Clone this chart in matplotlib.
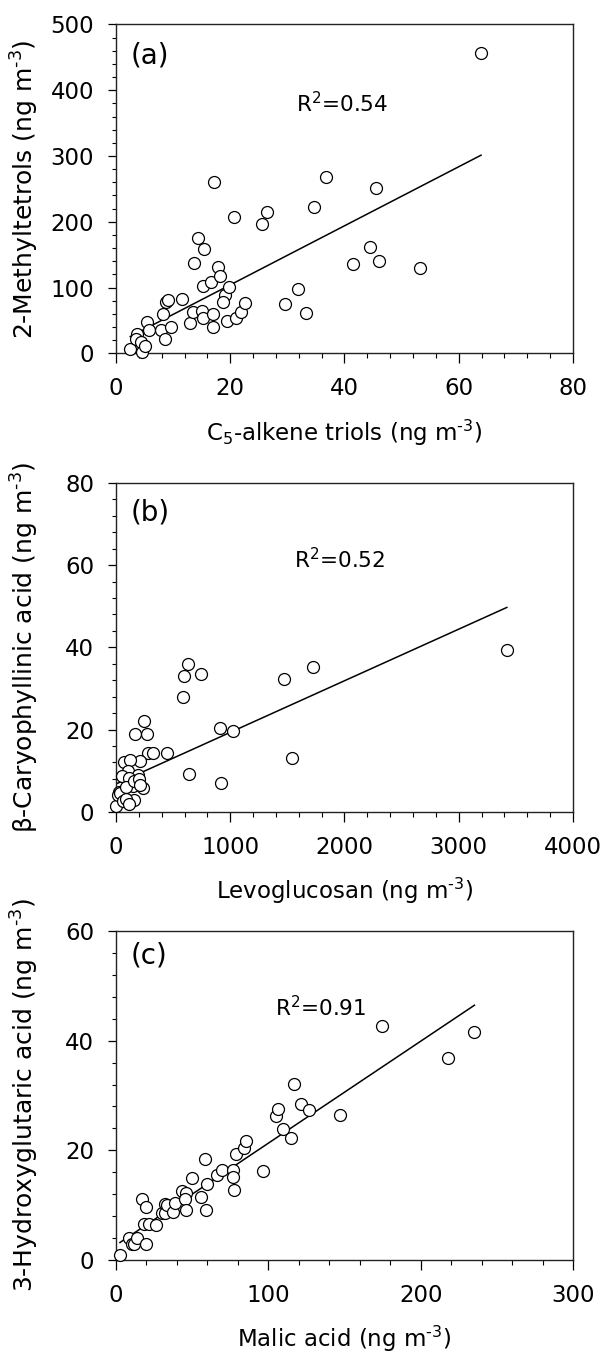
import matplotlib
matplotlib.use("Agg")
import matplotlib.pyplot as plt
import numpy as np
from matplotlib.ticker import MultipleLocator

plt.rcParams['font.family'] = ['DejaVu Sans']
plt.rcParams['mathtext.fontset'] = 'dejavusans'

# ---------------- data ----------------
# (a) 2-Methyltetrols vs C5-alkene triols
a_x = [2.5, 3.7, 3.5, 4.3, 4.6, 5.1, 5.5, 5.8, 7.8, 8.6, 8.2, 8.8, 9.1, 9.6,
       11.5, 12.9, 13.5, 13.7, 14.4, 15.4, 15.0, 15.3, 15.3, 16.6, 16.9, 16.9,
       17.1, 17.8, 18.2, 19.1, 18.8, 19.5, 19.8, 20.6, 21.0, 21.8, 22.5, 25.5,
       26.5, 29.6, 31.9, 33.3, 34.6, 36.7, 41.5, 44.5, 45.6, 46.1, 53.3, 63.9]
a_y = [7, 29, 22, 17, 2, 10.6, 47.6, 35, 35, 21.3, 60, 78, 80.5, 40,
       83, 46.6, 62.8, 138, 176, 158, 65, 54, 103, 108, 60, 40,
       261, 132, 117, 88, 78, 49, 101, 208, 54, 63, 76.5, 197,
       215, 75, 98, 62, 223, 268, 136, 161, 251, 140, 129.6, 457]
a_fit = (4.49, 14.3)   # slope, intercept
a_r2 = "0.54"

# (b) beta-Caryophyllinic acid vs Levoglucosan
b_x = [626, 597, 748, 588, 247, 169, 268, 911, 1025, 1470, 1726, 1537, 640,
       917, 277, 320, 445, 213, 73, 122, 102, 52, 189, 116, 239, 146, 29,
       44, 73, 160, 0, 20, 35, 60, 90, 110, 85, 160, 200, 210, 3421]
b_y = [36.0, 33.0, 33.4, 27.8, 22.1, 19.0, 18.9, 20.4, 19.7, 32.3, 35.1, 13.1, 9.2,
       7.1, 14.3, 14.3, 14.4, 12.4, 12.2, 12.6, 9.8, 8.6, 9.0, 8.1, 5.8, 6.3, 4.9,
       3.7, 3.3, 2.9, 1.3, 4.0, 4.5, 2.5, 3.2, 2.0, 6.0, 7.5, 8.0, 6.5, 39.4]
b_fit = (0.01255, 6.76)
b_r2 = "0.52"

# (c) 3-Hydroxyglutaric acid vs Malic acid
c_x = [2.6, 8.7, 10.2, 12.0, 13.5, 19.6, 16.8, 19.6, 18.3, 21.6, 26.1, 30.3,
       32.0, 32.0, 33.8, 37.5, 39.0, 43.6, 45.8, 45.1, 46.2, 49.9, 56.0, 58.2,
       58.8, 59.9, 66.2, 69.5, 76.7, 76.7, 77.8, 78.9, 84.3, 85.4, 96.3, 105.0,
       106.1, 109.4, 115.2, 116.6, 121.4, 126.4, 146.8, 174.3, 217.9, 235.3]
c_y = [0.9, 4.0, 3.0, 2.9, 4.0, 2.9, 11.1, 9.6, 6.6, 6.6, 6.4, 8.6,
       10.2, 8.6, 10.0, 8.8, 10.4, 12.5, 12.2, 11.1, 9.1, 14.9, 11.4, 18.4,
       9.1, 13.8, 15.5, 16.5, 16.4, 15.2, 12.7, 19.4, 20.5, 21.7, 16.2, 26.2,
       27.6, 23.8, 22.2, 32.1, 28.4, 27.4, 26.5, 42.6, 36.8, 41.6]
c_fit = (0.186, 2.7)
c_r2 = "0.91"

HY = "\u2010"
panels = [
    dict(x=a_x, y=a_y, fit=a_fit, r2=a_r2, tag="(a)",
         xlim=(0, 80), ylim=(0, 500), xmaj=20, xmin=4, ymaj=100, ymin=20,
         xlabel="C$_5$-alkene triols (ng m$^{" + HY + "3}$)",
         ylabel="2-Methyltetrols (ng m$^{" + HY + "3}$)",
         bottom=0.7396, r2pos=(0.393, 0.733), tagpos=(0.032, 0.906)),
    dict(x=b_x, y=b_y, fit=b_fit, r2=b_r2, tag="(b)",
         xlim=(0, 4000), ylim=(0, 80), xmaj=1000, xmin=200, ymaj=20, ymin=4,
         xlabel="Levoglucosan (ng m$^{" + HY + "3}$)",
         ylabel="\u03b2-Caryophyllinic acid (ng m$^{" + HY + "3}$)",
         bottom=0.4018, r2pos=(0.39, 0.739), tagpos=(0.033, 0.91)),
    dict(x=c_x, y=c_y, fit=c_fit, r2=c_r2, tag="(c)",
         xlim=(0, 300), ylim=(0, 60), xmaj=100, xmin=20, ymaj=20, ymin=4,
         xlabel="Malic acid (ng m$^{" + HY + "3}$)",
         ylabel="3-Hydroxyglutaric acid (ng m$^{" + HY + "3}$)",
         bottom=0.0715, r2pos=(0.348, 0.74), tagpos=(0.031, 0.925)),
]

fig = plt.figure(figsize=(6.05, 13.57), dpi=100)

for p in panels:
    ax = fig.add_axes([0.1917, p["bottom"], 0.7554, 0.2424])
    x = np.array(p["x"], dtype=float)
    y = np.array(p["y"], dtype=float)
    slope, icpt = p["fit"]
    xl = np.array([x.min(), x.max()])
    ax.plot(xl, slope * xl + icpt, color="black", lw=1.1, zorder=2)
    ax.plot(x, y, linestyle="none", marker="o", markersize=8.6,
            markerfacecolor="white", markeredgecolor="black",
            markeredgewidth=0.9, zorder=3, clip_on=False)
    ax.set_xlim(*p["xlim"])
    ax.set_ylim(*p["ylim"])
    ax.xaxis.set_major_locator(MultipleLocator(p["xmaj"]))
    ax.xaxis.set_minor_locator(MultipleLocator(p["xmin"]))
    ax.yaxis.set_major_locator(MultipleLocator(p["ymaj"]))
    ax.yaxis.set_minor_locator(MultipleLocator(p["ymin"]))
    ax.tick_params(axis="x", which="major", direction="out", length=7.2,
                   width=0.9, labelsize=16.5, pad=10)
    ax.tick_params(axis="x", which="minor", direction="out", length=3.6,
                   width=0.8)
    ax.tick_params(axis="y", which="major", direction="out", length=5.8,
                   width=0.9, labelsize=16.5, pad=10)
    ax.tick_params(axis="y", which="minor", direction="out", length=3.0,
                   width=0.8)
    ax.tick_params(top=False, right=False, which="both")
    for s in ax.spines.values():
        s.set_linewidth(1.0)
        s.set_color("#222222")
    ax.set_xlabel(p["xlabel"], fontsize=16.5)
    ax.set_ylabel(p["ylabel"], fontsize=18)
    ax.xaxis.set_label_coords(0.5, -0.195)
    ax.yaxis.set_label_coords(-0.165, 0.5)
    ax.text(p["tagpos"][0], p["tagpos"][1], p["tag"], transform=ax.transAxes,
            fontsize=20, ha="left", va="center")
    ax.text(p["r2pos"][0], p["r2pos"][1], "R$^2$=" + p["r2"],
            transform=ax.transAxes, fontsize=15.5, ha="left", va="baseline")

fig.savefig("out.png", dpi=100)
